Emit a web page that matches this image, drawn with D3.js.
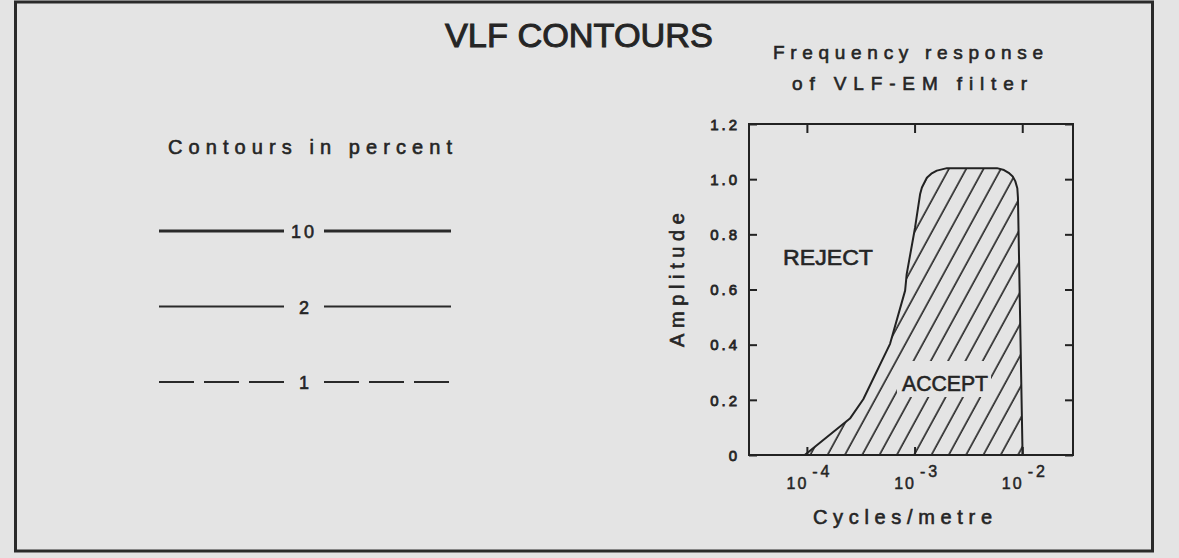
<!DOCTYPE html>
<html>
<head>
<meta charset="utf-8">
<script src="https://cdn.jsdelivr.net/npm/d3@7"></script>
<style>
  body { margin: 0; background: #e4e4e4; }
  text { font-family: "Liberation Sans", Arial, sans-serif; fill: #252525; stroke: #252525; stroke-width: 0.6; }
</style>
</head>
<body>
<div id="chart"></div>
<script>
// filter response
const freq      = [9.55e-5, 2.51e-4, 3.34e-4, 5.92e-4, 8.17e-4, 8.45e-4, 1.01e-3, 1.125e-3, 1.17e-3, 1.30e-3, 1.43e-3, 1.61e-3, 2.0e-3, 5.82e-3, 6.77e-3, 7.48e-3, 8.16e-3, 8.61e-3, 9.0e-3, 9.12e-3, 1.007e-2];
const amplitude = [0,       0.132,   0.202,   0.403,   0.596,   0.656,   0.824,   0.945,    0.97,    1.005,   1.02,    1.031,   1.04,   1.04,    1.033,   1.023,   1.01,    0.993,   0.967,  0.933,   0];

const yTicks      = [0, 0.2, 0.4, 0.6, 0.8, 1.0, 1.2];
const yTickLabels = ["0", "0.2", "0.4", "0.6", "0.8", "1.0", "1.2"];
const xTicks      = [1e-4, 1e-3, 1e-2];
const xTickExp    = ["-4", "-3", "-2"];

const contourLabels = ["10", "2", "1"];

let width  = 1179;
let height = 558;
let plot = { left: 749, right: 1073, top: 124, bottom: 455 };

// line style per contour level
let contourStyle = {
    "10": { w: 3,   dash: null },
    "2":  { w: 2,   dash: null },
    "1":  { w: 2,   dash: "35,10" }
};

let svg = d3.select('#chart')
    .append('svg')
        .attr('width', width)
        .attr('height', height)
        .style('background', '#e4e4e4');

let defs = svg.append('defs');
let pat = defs.append('pattern')
    .attr('id', 'hatch')
    .attr('patternUnits', 'userSpaceOnUse')
    .attr('width', 15.2)
    .attr('height', 15.2)
    .attr('patternTransform', 'rotate(28.6)');
pat.append('line')
    .attr('x1', 2).attr('y1', -2)
    .attr('x2', 2).attr('y2', 18)
    .attr('stroke', '#222')
    .attr('stroke-width', 1.6);

// outer frame
svg.append('rect')
    .attr('x', 15.5).attr('y', 2)
    .attr('width', 1137).attr('height', 549)
    .attr('fill', 'none')
    .attr('stroke', '#2a2a2a')
    .attr('stroke-width', 3);

svg.append('text')
    .attr('x', 445).attr('y', 47)
    .attr('font-size', 34)
    .attr('textLength', 268)
    .attr('lengthAdjust', 'spacingAndGlyphs')
    .style('stroke-width', 1)
    .text('VLF CONTOURS');

// ---- left: contour legend
svg.append('text')
    .attr('x', 168).attr('y', 154)
    .attr('font-size', 20)
    .attr('textLength', 284)
    .attr('lengthAdjust', 'spacing')
    .text('Contours in percent');

let legendY = d3.scalePoint()
    .domain(contourLabels)
    .range([231, 382]);

let legend = svg.selectAll('.contour')
    .data(contourLabels)
    .enter().append('g')
    .attr('class', 'contour')
    .attr('transform', d => 'translate(0,' + legendY(d) + ')');

legend.append('line')
    .attr('x1', 159).attr('x2', 284)
    .attr('stroke', '#2a2a2a')
    .attr('stroke-width', d => contourStyle[d].w)
    .attr('stroke-dasharray', d => contourStyle[d].dash);

legend.append('line')
    .attr('x1', 324).attr('x2', 451)
    .attr('stroke', '#2a2a2a')
    .attr('stroke-width', d => contourStyle[d].w)
    .attr('stroke-dasharray', d => contourStyle[d].dash);

legend.append('text')
    .attr('x', 304).attr('y', 7)
    .attr('text-anchor', 'middle')
    .attr('font-size', 18)
    .attr('letter-spacing', d => d.length > 1 ? 3 : 0)
    .text(d => d);

// ---- right: frequency response
svg.append('text')
    .attr('x', 773).attr('y', 59)
    .attr('font-size', 19)
    .attr('textLength', 270)
    .attr('lengthAdjust', 'spacing')
    .text('Frequency response');

svg.append('text')
    .attr('x', 792).attr('y', 90)
    .attr('font-size', 19)
    .attr('textLength', 235)
    .attr('lengthAdjust', 'spacing')
    .text('of VLF-EM filter');

let xScale = d3.scaleLog()
    .domain([2.9e-5, 2.96e-2])
    .range([plot.left, plot.right]);

let yScale = d3.scaleLinear()
    .domain([0, 1.2])
    .range([plot.bottom, plot.top]);

let area = d3.area()
    .x((d, i) => xScale(freq[i]))
    .y0(yScale(0))
    .y1(d => yScale(d));

svg.append('path')
    .datum(amplitude)
    .attr('d', area)
    .attr('fill', 'url(#hatch)')
    .attr('stroke', '#222')
    .attr('stroke-width', 2)
    .attr('stroke-linejoin', 'round');

// axes (ticks point inward)
function styleAxis(g) {
    g.select('.domain').remove();
    g.selectAll('.tick line').attr('stroke', '#222').attr('stroke-width', 2);
    g.selectAll('.tick text').remove();
}

let yLeft = svg.append('g')
    .attr('transform', 'translate(' + plot.left + ',0)')
    .call(d3.axisLeft(yScale).tickValues(yTicks).tickSize(-8))
    .call(styleAxis);

yLeft.selectAll('.tick')
    .append('text')
    .attr('x', -9)
    .attr('dy', '0.35em')
    .attr('text-anchor', 'end')
    .attr('font-size', 15)
    .attr('letter-spacing', 3)
    .style('stroke-width', 0.8)
    .text((d, i) => yTickLabels[i]);

svg.append('g')
    .attr('transform', 'translate(' + plot.right + ',0)')
    .call(d3.axisRight(yScale).tickValues(yTicks).tickSize(-8))
    .call(styleAxis);

let xBottom = svg.append('g')
    .attr('transform', 'translate(0,' + plot.bottom + ')')
    .call(d3.axisBottom(xScale).tickValues(xTicks).tickSize(-8))
    .call(styleAxis);

let xl = xBottom.selectAll('.tick')
    .append('text')
    .attr('font-size', 16)
    .style('stroke-width', 0.5);
xl.append('tspan')
    .attr('x', -10).attr('y', 34)
    .attr('letter-spacing', 2)
    .text('10');
xl.append('tspan')
    .attr('x', 15).attr('y', 22)
    .attr('letter-spacing', 3)
    .text((d, i) => xTickExp[i]);

svg.append('g')
    .attr('transform', 'translate(0,' + plot.top + ')')
    .call(d3.axisTop(xScale).tickValues(xTicks).tickSize(-9))
    .call(styleAxis);

// plot frame
svg.append('rect')
    .attr('x', plot.left).attr('y', plot.top)
    .attr('width', plot.right - plot.left)
    .attr('height', plot.bottom - plot.top)
    .attr('fill', 'none')
    .attr('stroke', '#222')
    .attr('stroke-width', 2);

svg.append('text')
    .attr('transform', 'translate(684,280) rotate(-90)')
    .attr('text-anchor', 'middle')
    .attr('font-size', 20)
    .attr('textLength', 134)
    .attr('lengthAdjust', 'spacing')
    .text('Amplitude');

svg.append('text')
    .attr('x', 813).attr('y', 524)
    .attr('font-size', 20)
    .attr('textLength', 179)
    .attr('lengthAdjust', 'spacing')
    .text('Cycles/metre');

svg.append('text')
    .attr('x', 783).attr('y', 265)
    .attr('font-size', 22)
    .attr('textLength', 90)
    .attr('lengthAdjust', 'spacingAndGlyphs')
    .text('REJECT');

// ACCEPT sits on a cleared patch of the hatching
svg.append('rect')
    .attr('x', 897).attr('y', 361)
    .attr('width', 94).attr('height', 36)
    .attr('fill', '#e4e4e4');

svg.append('text')
    .attr('x', 902).attr('y', 391)
    .attr('font-size', 22)
    .attr('textLength', 86)
    .attr('lengthAdjust', 'spacingAndGlyphs')
    .text('ACCEPT');
</script>
</body>
</html>
